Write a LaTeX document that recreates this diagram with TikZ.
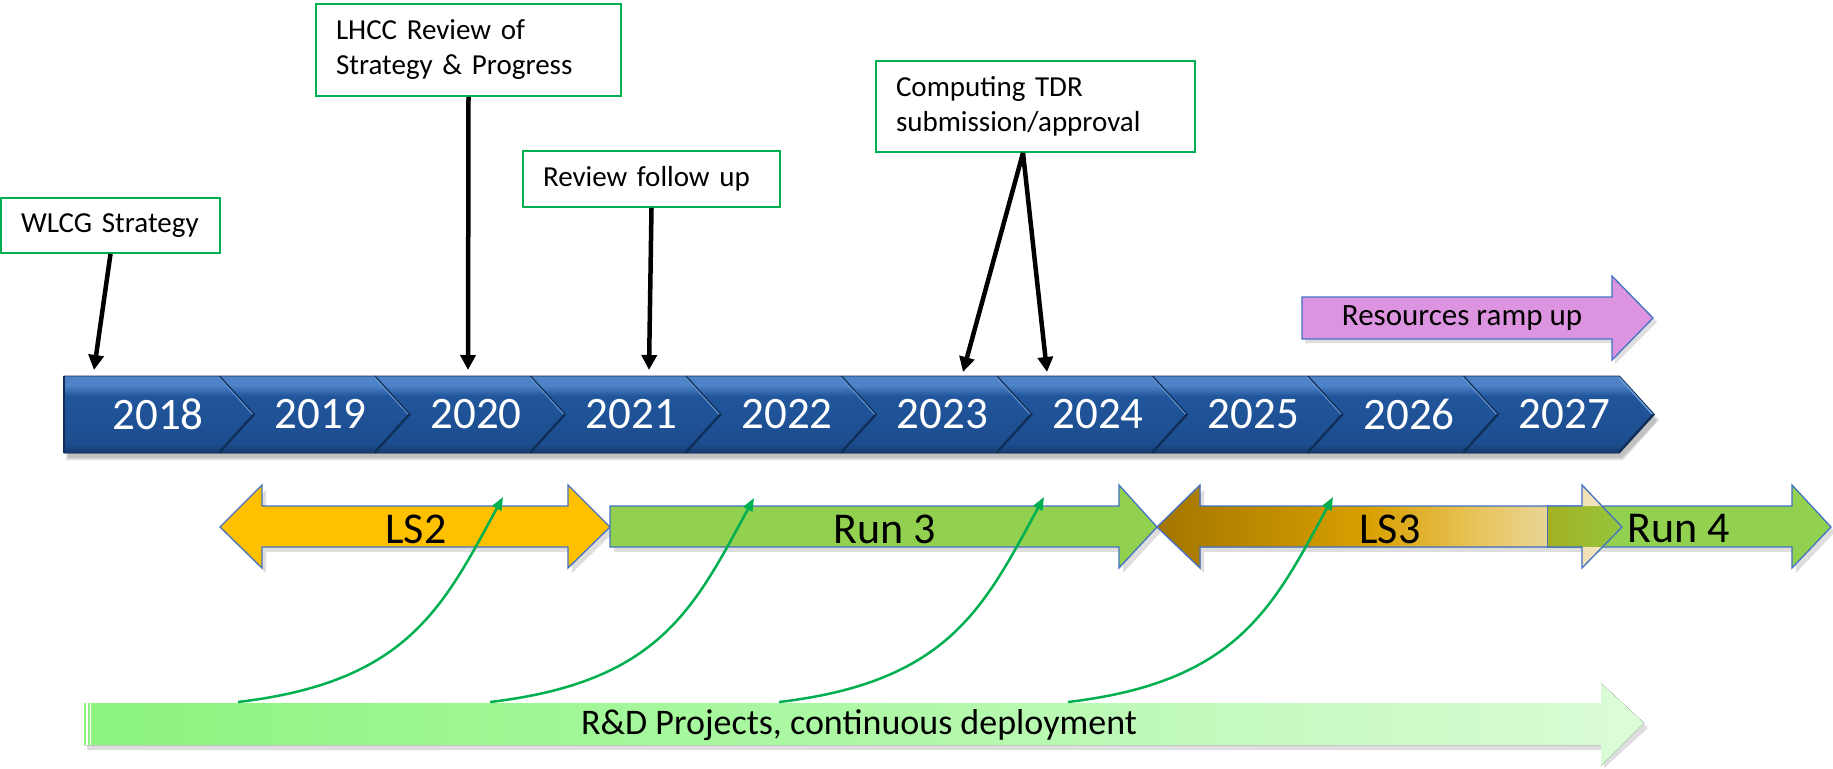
\documentclass[tikz,border=0pt]{standalone}
\usepackage{fontspec}
\setmainfont{Carlito}
\usetikzlibrary{arrows.meta}

\definecolor{evgreen}{HTML}{00B050}
\definecolor{edgeblue}{HTML}{4472C4}
\definecolor{ls2fill}{HTML}{FFC000}
\definecolor{runfill}{HTML}{92D050}
\definecolor{rampfill}{HTML}{DC94E0}
\definecolor{barL}{HTML}{4F83C8}
\definecolor{barM}{HTML}{21569C}
\definecolor{barM2}{HTML}{1C4D8E}
\definecolor{barD}{HTML}{153A6C}
\definecolor{bevL}{HTML}{6A9AD6}
\definecolor{bevD}{HTML}{0F2E58}
\definecolor{ls3a}{HTML}{A37500}
\definecolor{ls3b}{HTML}{D8A000}
\definecolor{ls3c}{HTML}{E8C45A}
\definecolor{ls3d}{HTML}{E8D496}
\definecolor{ls3mix}{HTML}{A4B022}
\definecolor{ls3mixR}{HTML}{94C63E}
\definecolor{ls3pale}{HTML}{F1E2B8}
\definecolor{rdL}{HTML}{8CF47E}
\definecolor{rdM}{HTML}{AEF8A6}
\definecolor{rdR}{HTML}{DCFCD8}

% vertical shading of the year chevrons (path maps onto 25bp..75bp)
\pgfdeclareverticalshading{yearbar}{100bp}{color(0bp)=(barD); color(25bp)=(barD); color(31bp)=(barM2); color(62bp)=(barM); color(69bp)=(barL); color(75bp)=(barL); color(100bp)=(barL)}
% gold gradient of the LS3 period
\pgfdeclarehorizontalshading{ls3shade}{100bp}{color(0bp)=(ls3a); color(25bp)=(ls3a); color(52bp)=(ls3b); color(66bp)=(ls3c); color(75bp)=(ls3d); color(100bp)=(ls3d)}
% green gradient of the R&D band
\pgfdeclarehorizontalshading{rdshade}{100bp}{color(0bp)=(rdL); color(25bp)=(rdL); color(50bp)=(rdM); color(75bp)=(rdR); color(100bp)=(rdR)}

\begin{document}
\begin{tikzpicture}[x=1pt,y=-1pt,
  evbox/.style={draw=evgreen, line width=1.8pt, fill=white, align=left,
    font=\fontsize{29}{35}\selectfont, inner xsep=20pt, inner ysep=0pt},
  pin/.style={line width=4.5pt, -{Triangle[length=15pt,width=15pt]}},
  feed/.style={evgreen, line width=2.5pt, -{Triangle[length=13pt,width=10pt]}},
  phase/.style={draw=edgeblue, line width=1.3pt, line join=miter},
  yearlbl/.style={text=white, font=\fontsize{45}{54}\selectfont, inner sep=0pt},
  phaselbl/.style={font=\fontsize{44}{52}\selectfont, inner sep=0pt},
  softshadow/.style={fill=black, opacity=0.13}]
\useasboundingbox (0,0) rectangle (1833,768);

% ---------- year timeline ----------
\fill[softshadow] (66,381) -- (1623,381) -- (1659,420) -- (1623,460) -- (66,460) -- cycle;
\fill[softshadow] (68,383) -- (1622,383) -- (1657,421) -- (1622,458) -- (68,458) -- cycle;
\foreach \k/\yr in {0/2018,1/2019,2/2020,3/2021,4/2022,5/2023,6/2024,7/2025,8/2026,9/2027}{
  \pgfmathsetmacro{\xl}{64+155.5*\k}
  \pgfmathsetmacro{\xr}{\xl+155.5}
  \pgfmathsetmacro{\xn}{\k==0 ? \xl : \xl+35}
  \pgfmathsetmacro{\xt}{\xr+35}
  \pgfmathsetmacro{\xc}{\k==0 ? 158 : \xl+101}
  \fill[shading=yearbar] (\xl,376) -- (\xr,376) -- (\xt,414.5) -- (\xr,453) -- (\xl,453) -- (\xn,414.5) -- cycle;
  \draw[bevL, line width=2pt] (\xr,377) -- (\xt-1,414.5);
  \draw[bevD, line width=2pt] (\xt-1,414.5) -- (\xr,452);
  \draw[bevD, line width=1.2pt] (\xl,376) -- (\xn,414.5) -- (\xl,453);
  \node[yearlbl] (y\yr) at (\xc,414) {\yr};
}
\draw[barD!80!black, line width=0.8pt] (64,376) -- (1619.5,376) -- (1654.5,414.5) -- (1619.5,453) -- (64,453) -- cycle;

% ---------- milestones ----------
\node[evbox, text width=179pt, minimum height=55pt] (wlcg) at (110.5,225.5) {WLCG Strategy};
\node[evbox, text width=265pt, minimum height=92pt] (lhcc) at (468.5,50) {LHCC Review of\\Strategy \& Progress};
\node[evbox, text width=217pt, minimum height=56pt] (rfu) at (651.5,179) {Review follow up};
\node[evbox, text width=279pt, minimum height=91pt] (tdr) at (1035.5,106.5) {Computing TDR\\submission/approval};

\coordinate (wlcgTip) at (94,370);
\coordinate (lhccTip) at (468,370);
\coordinate (rfuTip) at (649,370);
\coordinate (tdrTipA) at (963,372);
\coordinate (tdrTipB) at (1047,372);
\draw[pin] (wlcg.south) -- (wlcgTip);
\draw[pin] (lhcc.south) -- (lhccTip);
\draw[pin] (rfu.south) -- (rfuTip);
\draw[pin] ([xshift=-12.5pt]tdr.south) -- (tdrTipA);
\draw[pin] ([xshift=-12.5pt]tdr.south) -- (tdrTipB);

% ---------- resources ramp up ----------
\fill[softshadow] (1305,301) -- (1615,301) -- (1615,280) -- (1657,322) -- (1615,364) -- (1615,343) -- (1305,343) -- cycle;
\filldraw[phase, fill=rampfill] (1302,297) -- (1612,297) -- (1612,276) -- (1653,318) -- (1612,360) -- (1612,339) -- (1302,339) -- cycle;
\node[font=\fontsize{31}{37}\selectfont, inner sep=0pt] (ramp) at (1462,318) {Resources ramp up};

% ---------- accelerator periods ----------
\fill[softshadow] (224,532) -- (266,490) -- (266,511) -- (572,511) -- (572,490) -- (614,532) -- (572,573) -- (572,552) -- (266,552) -- (266,573) -- cycle;
\fill[softshadow] (614,511) -- (1123,511) -- (1123,490) -- (1161,532) -- (1123,573) -- (1123,552) -- (614,552) -- cycle;
\fill[softshadow] (1161,532) -- (1204,490) -- (1204,511) -- (1551,511) -- (1551,552) -- (1204,552) -- (1204,573) -- cycle;
\fill[softshadow] (1551,511) -- (1796,511) -- (1796,490) -- (1833,530) -- (1833,534) -- (1796,573) -- (1796,552) -- (1551,552) -- cycle;

\filldraw[phase, fill=ls2fill] (220,527) -- (262,485) -- (262,506) -- (568,506) -- (568,485) -- (610,527) -- (568,568) -- (568,547) -- (262,547) -- (262,568) -- cycle;
\filldraw[phase, fill=runfill] (610,506) -- (1119,506) -- (1119,485) -- (1157,527) -- (1119,568) -- (1119,547) -- (610,547) -- cycle;
\filldraw[phase, fill=runfill] (1547,506) -- (1792,506) -- (1792,485) -- (1831,527) -- (1792,568) -- (1792,547) -- (1547,547) -- cycle;
\fill[shading=ls3shade] (1157,527) -- (1200,485) -- (1200,506) -- (1547,506) -- (1547,547) -- (1200,547) -- (1200,568) -- cycle;
% translucent end of LS3 lying over the start of Run 4
\fill[left color=ls3mix, right color=ls3mixR] (1547,506) -- (1602,506) -- (1622,527) -- (1602,547) -- (1547,547) -- cycle;
\fill[ls3pale] (1582,485) -- (1602,506) -- (1582,506) -- cycle;
\fill[ls3pale] (1582,568) -- (1602,547) -- (1582,547) -- cycle;
\draw[edgeblue, line width=0.8pt] (1547,506) -- (1547,547);
\draw[phase] (1157,527) -- (1200,485) -- (1200,506) -- (1582,506) -- (1582,485) -- (1622,527) -- (1582,568) -- (1582,547) -- (1200,547) -- (1200,568) -- cycle;

\node[phaselbl] (ls2) at (416,529) {LS2};
\node[phaselbl] (run3) at (885,529) {Run 3};
\node[phaselbl] (ls3) at (1390,529) {LS3};
\node[phaselbl] (run4) at (1679,529) {Run 4};

% ---------- R&D band ----------
\fill[softshadow] (87,708) -- (1604,708) -- (1604,688) -- (1648,728) -- (1604,768) -- (1604,750) -- (87,750) -- cycle;
\fill[shading=rdshade] (84,703) -- (1601,703) -- (1601,683) -- (1644,723) -- (1601,766) -- (1601,745) -- (84,745) -- cycle;
\draw[white, line width=1.2pt] (87,703) -- (87,745);
\draw[white, line width=1.2pt] (90.5,703) -- (90.5,745);
\node[font=\fontsize{36}{43}\selectfont, inner sep=0pt] (rd) at (859,725) {R\&D Projects, continuous deployment};

% ---------- R&D feeding the periods ----------
\coordinate (f1s) at (238,702);  \coordinate (f1t) at (503,497);
\coordinate (f2s) at (490,702);  \coordinate (f2t) at (754,498);
\coordinate (f3s) at (779,702);  \coordinate (f3t) at (1044,497);
\coordinate (f4s) at (1068,702); \coordinate (f4t) at (1333,497);
\foreach \i in {1,2,3,4}{
  \draw[feed] (f\i s) .. controls +(170,-20) and +(-60,110) .. (f\i t);
}
\end{tikzpicture}
\end{document}
